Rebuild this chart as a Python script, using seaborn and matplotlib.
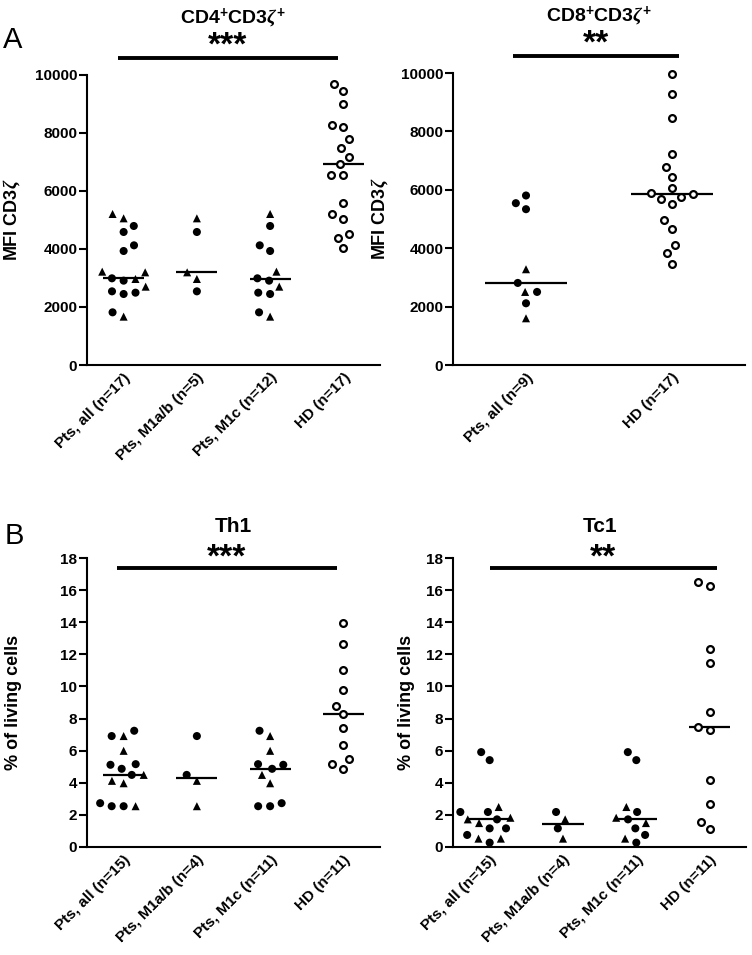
import numpy as np
import pandas as pd
import seaborn as sns
import matplotlib.pyplot as plt
from matplotlib.markers import MarkerStyle
from matplotlib.transforms import blended_transform_factory, Affine2D

# CD4+CD3z+ : MFI CD3z
cd4_m1ab_dot = [4586, 2540]
cd4_m1ab_tri = [5057, 3195, 2966]
cd4_m1c_dot = [4793, 4126, 3931, 2989, 2908, 2494, 2448, 1816]
cd4_m1c_tri = [5207, 3218, 2701, 1667]
cd4_hd = [9690, 9460, 8989, 8264, 8207, 7782, 7483, 7184, 6920,
          6540, 6540, 5575, 5207, 5046, 4506, 4368, 4023]

# CD8+CD3z+ : MFI CD3z
cd8_pts_dot = [5806, 5543, 5337, 2811, 2503, 2114]
cd8_pts_tri = [3280, 2503, 1600]
cd8_hd = [9977, 9269, 8457, 7223, 6777, 6446, 6046, 5886, 5874,
          5771, 5691, 5520, 4960, 4674, 4126, 3829, 3474]

# Th1 : % of living cells
th1_m1ab_dot = [6.91, 4.49]
th1_m1ab_tri = [4.12, 2.54]
th1_m1c_dot = [7.24, 5.16, 5.12, 4.87, 2.73, 2.54, 2.54]
th1_m1c_tri = [6.91, 5.99, 4.49, 3.97]
th1_hd = [13.94, 12.63, 11.03, 9.78, 8.80, 8.26, 7.43, 6.35, 5.49, 5.14, 4.85]

# Tc1 : % of living cells
tc1_m1ab_dot = [2.18, 1.16]
tc1_m1ab_tri = [1.72, 0.52]
tc1_m1c_dot = [5.91, 5.41, 2.18, 1.72, 1.16, 0.75, 0.27]
tc1_m1c_tri = [2.49, 1.82, 1.49, 0.52]
tc1_hd = [16.49, 16.28, 12.32, 11.49, 8.42, 7.47, 7.30, 4.15, 2.70, 1.56, 1.10]

labels_cd4 = ["Pts, all (n=17)", "Pts, M1a/b (n=5)", "Pts, M1c (n=12)", "HD (n=17)"]
labels_cd8 = ["Pts, all (n=9)", "HD (n=17)"]
labels_b = ["Pts, all (n=15)", "Pts, M1a/b (n=4)", "Pts, M1c (n=11)", "HD (n=11)"]

sns.set_style("ticks")
plt.rcParams['font.family'] = ['Liberation Sans', 'DejaVu Sans']
plt.rcParams['font.weight'] = 'bold'
plt.rcParams['mathtext.fontset'] = 'custom'
plt.rcParams['mathtext.rm'] = 'Liberation Sans:bold'
plt.rcParams['mathtext.it'] = 'Liberation Serif:italic'
plt.rcParams['mathtext.bf'] = 'Liberation Sans:bold'
for k in ['text.color', 'axes.labelcolor', 'xtick.color', 'ytick.color', 'axes.edgecolor']:
    plt.rcParams[k] = 'black'


def build(groups):
    rows = []
    for name, dots, tris, opens in groups:
        rows += [(name, v, 'dot') for v in dots]
        rows += [(name, v, 'tri') for v in tris]
        rows += [(name, v, 'open') for v in opens]
    return pd.DataFrame(rows, columns=['group', 'value', 'shape'])


df_cd4 = build([
    (labels_cd4[0], cd4_m1ab_dot + cd4_m1c_dot, cd4_m1ab_tri + cd4_m1c_tri, []),
    (labels_cd4[1], cd4_m1ab_dot, cd4_m1ab_tri, []),
    (labels_cd4[2], cd4_m1c_dot, cd4_m1c_tri, []),
    (labels_cd4[3], [], [], cd4_hd),
])
df_cd8 = build([
    (labels_cd8[0], cd8_pts_dot, cd8_pts_tri, []),
    (labels_cd8[1], [], [], cd8_hd),
])
df_th1 = build([
    (labels_b[0], th1_m1ab_dot + th1_m1c_dot, th1_m1ab_tri + th1_m1c_tri, []),
    (labels_b[1], th1_m1ab_dot, th1_m1ab_tri, []),
    (labels_b[2], th1_m1c_dot, th1_m1c_tri, []),
    (labels_b[3], [], [], th1_hd),
])
df_tc1 = build([
    (labels_b[0], tc1_m1ab_dot + tc1_m1c_dot, tc1_m1ab_tri + tc1_m1c_tri, []),
    (labels_b[1], tc1_m1ab_dot, tc1_m1ab_tri, []),
    (labels_b[2], tc1_m1c_dot, tc1_m1c_tri, []),
    (labels_b[3], [], [], tc1_hd),
])

# swarm is laid out with a larger marker than is drawn, so points keep a gap
LAYOUT = 8.2
DOT = 5.8
OPEN = 4.9
OPEN_LW = 1.6


def unit_path(m, scale):
    ms = MarkerStyle(m)
    return ms.get_path().transformed(ms.get_transform() + Affine2D().scale(scale))


paths = {'dot': unit_path('o', DOT / LAYOUT), 'tri': unit_path('^', DOT / LAYOUT),
         'open': unit_path('o', OPEN / (LAYOUT - OPEN_LW))}


def panel(ax, df, order, ymax, yticks, ylabel, title, title_y, title_size, stars,
          bar, bar_y, stars_y, ylab_x):
    pts = df[df['shape'] != 'open']
    n0 = len(ax.collections)
    sns.swarmplot(data=pts, x='group', y='value', order=order, color='black',
                  size=LAYOUT, linewidth=0, ax=ax)
    # circles and triangles share one swarm; give each point its own marker
    for col, cat in zip(ax.collections[n0:], order):
        shapes = pts.loc[pts['group'] == cat, 'shape'].tolist()
        if shapes and len(col.get_offsets()) == len(shapes):
            col.set_paths([paths[s] for s in shapes])
    hd = df[df['shape'] == 'open']
    n1 = len(ax.collections)
    sns.swarmplot(data=hd, x='group', y='value', order=order, color='white',
                  edgecolor='black', linewidth=OPEN_LW, size=LAYOUT - OPEN_LW, ax=ax)
    for col in ax.collections[n1:]:
        col.set_paths([paths['open']])
    sns.boxplot(data=df, x='group', y='value', order=order, ax=ax, width=0.56,
                showfliers=False, showbox=False, showcaps=False, whis=0,
                whiskerprops={'visible': False}, fill=False,
                medianprops={'color': 'black', 'linewidth': 1.6})
    for col in ax.collections:
        col.set_clip_on(False)

    ax.set_xlim(-0.5, len(order) - 0.5)
    ax.set_ylim(0, ymax)
    ax.set_yticks(yticks)
    sns.despine(ax=ax)
    for s in ['left', 'bottom']:
        ax.spines[s].set_linewidth(1.5)
    ax.tick_params(axis='y', length=5.5, width=1.5, pad=1.5, labelsize=11)
    ax.tick_params(axis='x', length=0, pad=4, labelsize=11)
    ax.set_xticks(range(len(order)))
    ax.set_xticklabels(order, rotation=45, ha='right', rotation_mode='anchor',
                       fontweight='bold')
    ax.set_xlabel('')
    ax.set_ylabel(ylabel, fontsize=13, fontweight='bold')
    ax.yaxis.set_label_coords(ylab_x, 0.5)

    tr = blended_transform_factory(ax.transData, ax.transAxes)
    ax.plot(bar, [bar_y, bar_y], color='black', lw=2.8, transform=tr,
            clip_on=False, solid_capstyle='butt')
    ax.text(np.mean(bar), stars_y, stars, transform=tr, ha='center',
            va='baseline', fontsize=24, fontweight='bold')
    ax.text(0.5, title_y, title, transform=ax.transAxes, ha='center',
            va='baseline', fontsize=title_size, fontweight='bold')


fig = plt.figure(figsize=(7.52, 9.55), dpi=100)
ax1 = fig.add_axes([0.1157, 0.6178, 0.3896, 0.3037])
ax2 = fig.add_axes([0.6024, 0.6178, 0.3883, 0.3057])
ax3 = fig.add_axes([0.1157, 0.1131, 0.3896, 0.3026])
ax4 = fig.add_axes([0.6024, 0.1131, 0.3900, 0.3026])

panel(ax1, df_cd4, labels_cd4, 10000, range(0, 10001, 2000), r"MFI CD3$\zeta$",
      r"CD4$^{+}$CD3$\zeta^{+}$", 1.178, 14, "***", [-0.08, 2.93], 1.059, 1.071,
      -0.222)
panel(ax2, df_cd8, labels_cd8, 10000, range(0, 10001, 2000), r"MFI CD3$\zeta$",
      r"CD8$^{+}$CD3$\zeta^{+}$", 1.178, 14, "**", [-0.09, 1.05], 1.059, 1.071,
      -0.215)
panel(ax3, df_th1, labels_b, 18, range(0, 19, 2), "% of living cells",
      "Th1", 1.09, 15, "***", [-0.09, 2.91], 17.4 / 18, 0.969, -0.222)
panel(ax4, df_tc1, labels_b, 18, range(0, 19, 2), "% of living cells",
      "Tc1", 1.09, 15, "**", [0.0, 3.1], 17.4 / 18, 0.969, -0.13)

fig.text(0.004, 0.95, "A", fontsize=21, fontweight='normal', va='baseline')
fig.text(0.006, 0.43, "B", fontsize=21, fontweight='normal', va='baseline')

fig.savefig("out.png", dpi=100)
